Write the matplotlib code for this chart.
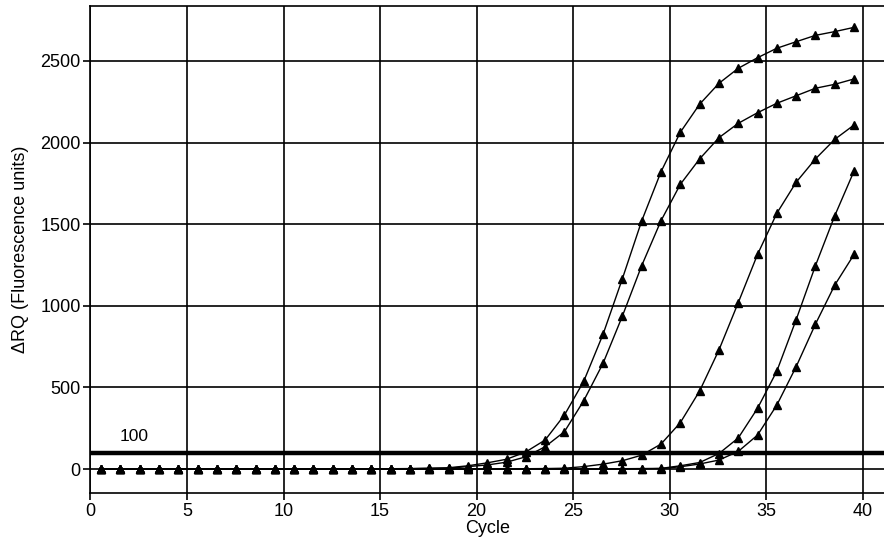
import matplotlib
matplotlib.use('agg')
import matplotlib.pyplot as plt
import numpy as np

plt.rcParams['font.family'] = ['Liberation Sans', 'DejaVu Sans']

# cycle positions of the readings
cycles = np.arange(40) + 0.55

# five amplification curves (fluorescence units)
curve_a = [0]*15 + [2, 3, 5, 8, 20, 38, 60, 105, 178, 331, 538, 826, 1166, 1520,
                    1821, 2063, 2235, 2363, 2455, 2520, 2578, 2618, 2657, 2680, 2706]
curve_b = [0]*15 + [1, 2, 4, 5, 15, 25, 42, 75, 137, 229, 419, 648, 937, 1246,
                    1521, 1744, 1900, 2030, 2118, 2183, 2241, 2287, 2333, 2357, 2390]
curve_c = [0]*22 + [2, 3, 5, 15, 30, 51, 85, 153, 284, 478, 729, 1019, 1315,
                    1567, 1757, 1900, 2020, 2108]
curve_d = [0]*27 + [2, 3, 4, 20, 40, 95, 190, 372, 600, 915, 1246, 1552, 1826]
curve_e = [0]*28 + [1, 3, 14, 31, 55, 108, 208, 392, 627, 888, 1127, 1315]

threshold = 100

fig = plt.figure(figsize=(8.84, 5.43), dpi=100)
ax = fig.add_axes([0.1023, 0.092, 0.8977, 0.897])

for y in [curve_a, curve_b, curve_c, curve_d, curve_e]:
    ax.plot(cycles, y, color='black', lw=1.0, marker='^', ms=5.5,
            mfc='black', mec='black', zorder=3)

ax.axhline(threshold, color='black', lw=3.2, zorder=2)
ax.text(1.5, threshold + 100, '100', fontsize=12.5, va='center', ha='left')

ax.set_xlim(0, 41.1)
ax.set_ylim(-147, 2837)
ax.set_xticks(np.arange(0, 41, 5))
ax.set_yticks(np.arange(0, 2501, 500))
ax.grid(True, color='black', lw=1.2)
ax.set_axisbelow(True)
for s in ['left', 'top', 'bottom']:
    ax.spines[s].set_linewidth(1.2)
ax.spines['right'].set_visible(False)
ax.tick_params(labelsize=13, length=5, width=1.2, direction='out', pad=2)

ax.set_xlabel('Cycle', fontsize=13, labelpad=0)
ax.set_ylabel('\u0394RQ (Fluorescence units)', fontsize=13, labelpad=8)

plt.savefig('out.png', dpi=100)
